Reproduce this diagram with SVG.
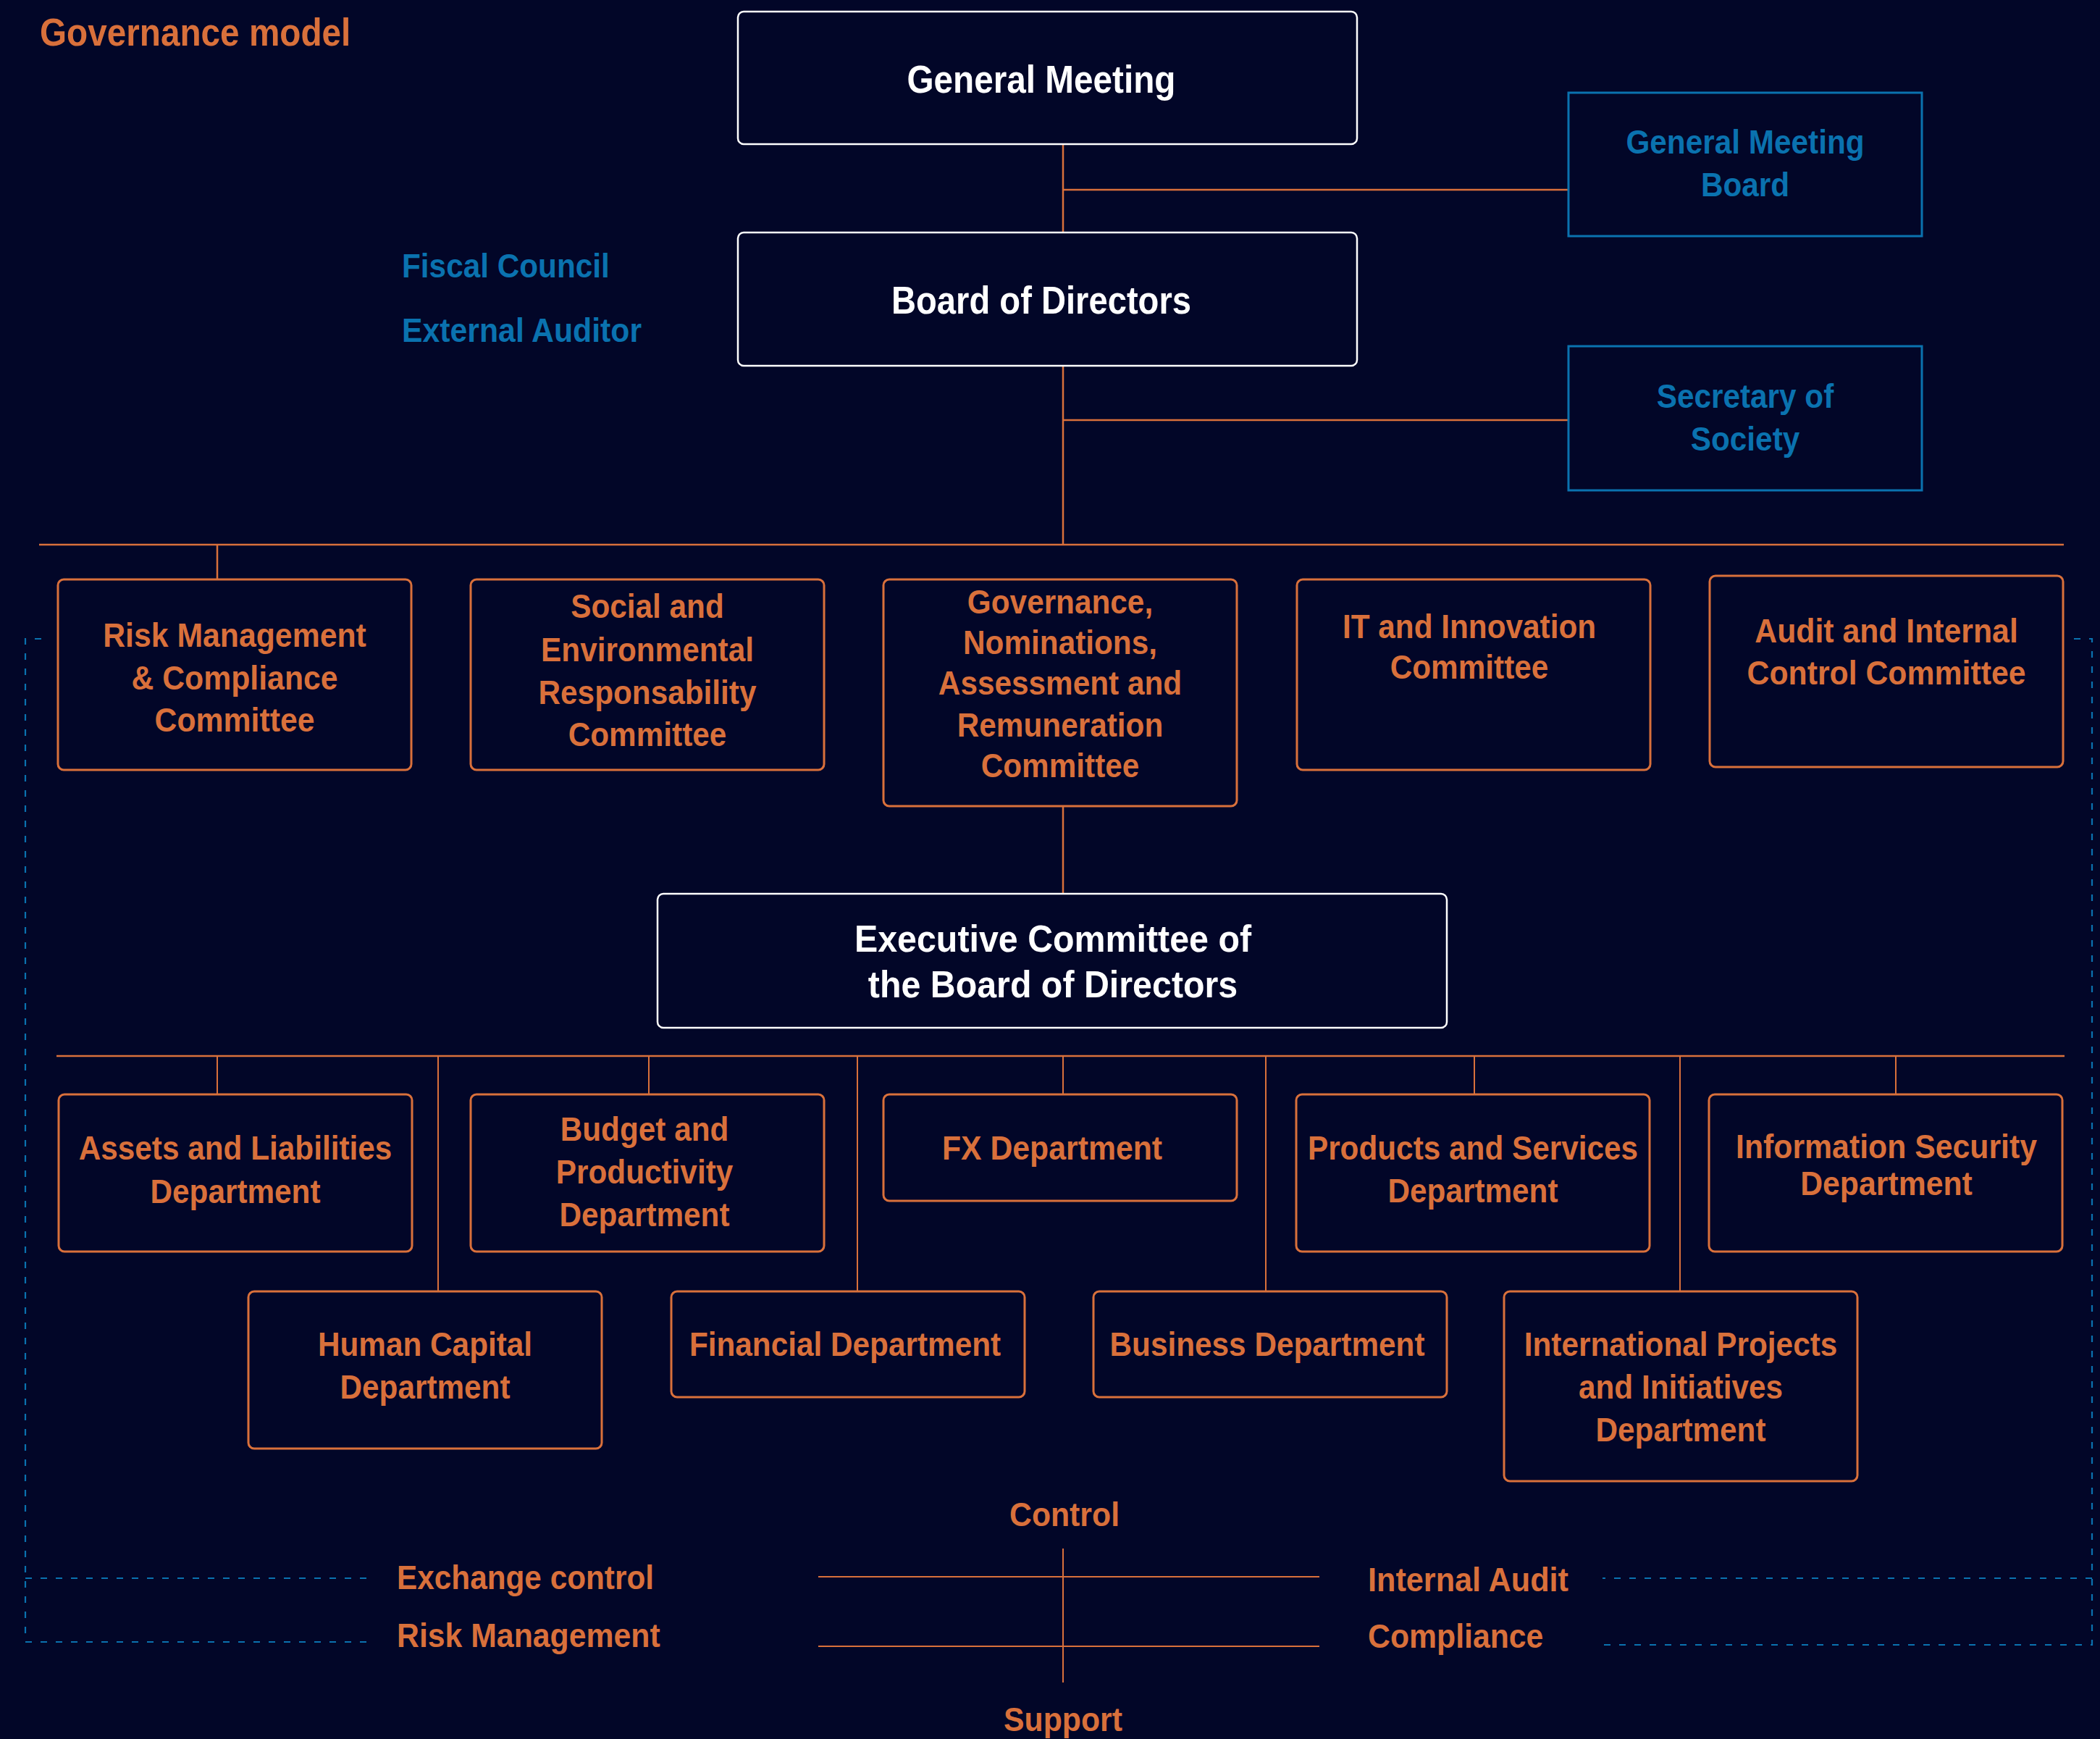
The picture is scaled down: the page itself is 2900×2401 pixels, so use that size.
<svg xmlns="http://www.w3.org/2000/svg" width="2900" height="2401" viewBox="0 0 2900 2401">
<style>
text{font-family:"Liberation Sans",Arial,sans-serif;font-weight:bold}
.w{fill:#ffffff;font-size:53px;text-anchor:middle}
.o{fill:#D9703B;font-size:46px;text-anchor:middle}
.ol{fill:#D9703B;font-size:46px}
.b{fill:#0A72AF;font-size:46px;text-anchor:middle}
.bl{fill:#0A72AF;font-size:46px}
.wb{fill:none;stroke:#ffffff;stroke-width:2.5}
.ob{fill:none;stroke:#D9703B;stroke-width:3}
.bb{fill:none;stroke:#0A72AF;stroke-width:3}
.c{fill:none;stroke:#D9703B;stroke-width:2.5}
.c2{fill:none;stroke:#D9703B;stroke-width:2}
.d{fill:none;stroke:#0A72AF;stroke-width:2.2;stroke-dasharray:9 12}
</style>
<rect width="2900" height="2401" fill="#020628"/>
<text class="ol" style="font-size:53px" transform="translate(55,63) scale(.9,1)">Governance model</text>
<text class="bl" transform="translate(555,383) scale(.92,1)">Fiscal Council</text>
<text class="bl" transform="translate(555,472) scale(.93,1)">External Auditor</text>

<g id="connectors">
<path class="c" d="M1468 199V321M1468 262H2166M1468 505V752M1468 580H2166M54 752H2850M300 752V800M1468 1113V1234"/>
<path class="c" d="M78 1458H2851"/>
<path class="c2" d="M300 1458V1511M896 1458V1511M1468 1458V1511M2036 1458V1511M2618 1458V1511M605 1458V1783M1184 1458V1783M1748 1458V1783M2320 1458V1783"/>
<path class="c2" d="M1468 2138V2323M1130 2177H1822M1130 2273H1822"/>
<path class="d" d="M57 882H35V2267H509M35 2179H509"/>
<path class="d" d="M2864 882H2889V2271H2204M2889 2179H2213"/>
</g>

<g id="general-meeting"><rect class="wb" x="1019" y="16" width="855" height="183" rx="8"/>
<text class="w" transform="translate(1438,128) scale(.9,1)">General Meeting</text></g>
<g id="board-of-directors"><rect class="wb" x="1019" y="321" width="855" height="184" rx="8"/>
<text class="w" transform="translate(1438,433) scale(.89,1)">Board of Directors</text></g>
<g id="general-meeting-board"><rect class="bb" x="2166" y="128" width="488" height="198"/>
<text class="b" transform="translate(2410,212) scale(.92,1)"><tspan x="0" y="0">General Meeting</tspan><tspan x="0" y="59">Board</tspan></text></g>
<g id="secretary"><rect class="bb" x="2166" y="478" width="488" height="199"/>
<text class="b" transform="translate(2410,563) scale(.92,1)"><tspan x="0" y="0">Secretary of</tspan><tspan x="0" y="59">Society</tspan></text></g>

<g id="risk-committee"><rect class="ob" x="80" y="800" width="488" height="263" rx="8"/>
<text class="o" transform="translate(324,893) scale(.93,1)"><tspan x="0" y="0">Risk Management</tspan><tspan x="0" y="59">&amp; Compliance</tspan><tspan x="0" y="117">Committee</tspan></text></g>
<g id="social-committee"><rect class="ob" x="650" y="800" width="488" height="263" rx="8"/>
<text class="o" transform="translate(894,853) scale(.92,1)"><tspan x="0" y="0">Social and</tspan><tspan x="0" y="60">Environmental</tspan><tspan x="0" y="119">Responsability</tspan><tspan x="0" y="177">Committee</tspan></text></g>
<g id="governance-committee"><rect class="ob" x="1220" y="800" width="488" height="313" rx="8"/>
<text class="o" transform="translate(1464,847) scale(.92,1)"><tspan x="0" y="0">Governance,</tspan><tspan x="0" y="56">Nominations,</tspan><tspan x="0" y="112">Assessment and</tspan><tspan x="0" y="170">Remuneration</tspan><tspan x="0" y="226">Committee</tspan></text></g>
<g id="it-committee"><rect class="ob" x="1791" y="800" width="488" height="263" rx="8"/>
<text class="o" transform="translate(2029,881) scale(.92,1)"><tspan x="0" y="0">IT and Innovation</tspan><tspan x="0" y="56">Committee</tspan></text></g>
<g id="audit-committee"><rect class="ob" x="2361" y="795" width="488" height="264" rx="8"/>
<text class="o" transform="translate(2605,887) scale(.93,1)"><tspan x="0" y="0">Audit and Internal</tspan><tspan x="0" y="58">Control Committee</tspan></text></g>

<g id="executive-committee"><rect class="wb" x="908" y="1234" width="1090" height="185" rx="8"/>
<text class="w" style="font-size:52px" transform="translate(1454,1314) scale(.93,1)"><tspan x="0" y="0">Executive Committee of</tspan><tspan x="0" y="63">the Board of Directors</tspan></text></g>

<g id="assets-dept"><rect class="ob" x="81" y="1511" width="488" height="217" rx="8"/>
<text class="o" transform="translate(325,1601) scale(.92,1)"><tspan x="0" y="0">Assets and Liabilities</tspan><tspan x="0" y="60">Department</tspan></text></g>
<g id="budget-dept"><rect class="ob" x="650" y="1511" width="488" height="217" rx="8"/>
<text class="o" transform="translate(890,1575) scale(.92,1)"><tspan x="0" y="0">Budget and</tspan><tspan x="0" y="59">Productivity</tspan><tspan x="0" y="118">Department</tspan></text></g>
<g id="fx-dept"><rect class="ob" x="1220" y="1511" width="488" height="147" rx="8"/>
<text class="o" transform="translate(1453,1601) scale(.93,1)">FX Department</text></g>
<g id="products-dept"><rect class="ob" x="1790" y="1511" width="488" height="217" rx="8"/>
<text class="o" transform="translate(2034,1601) scale(.92,1)"><tspan x="0" y="0">Products and Services</tspan><tspan x="0" y="59">Department</tspan></text></g>
<g id="infosec-dept"><rect class="ob" x="2360" y="1511" width="488" height="217" rx="8"/>
<text class="o" transform="translate(2605,1599) scale(.93,1)"><tspan x="0" y="0">Information Security</tspan><tspan x="0" y="51">Department</tspan></text></g>
<g id="human-capital-dept"><rect class="ob" x="343" y="1783" width="488" height="217" rx="8"/>
<text class="o" transform="translate(587,1872) scale(.92,1)"><tspan x="0" y="0">Human Capital</tspan><tspan x="0" y="59">Department</tspan></text></g>
<g id="financial-dept"><rect class="ob" x="927" y="1783" width="488" height="146" rx="8"/>
<text class="o" transform="translate(1167,1872) scale(.92,1)">Financial Department</text></g>
<g id="business-dept"><rect class="ob" x="1510" y="1783" width="488" height="146" rx="8"/>
<text class="o" transform="translate(1750,1872) scale(.92,1)">Business Department</text></g>
<g id="international-dept"><rect class="ob" x="2077" y="1783" width="488" height="262" rx="8"/>
<text class="o" transform="translate(2321,1872) scale(.92,1)"><tspan x="0" y="0">International Projects</tspan><tspan x="0" y="59">and Initiatives</tspan><tspan x="0" y="118">Department</tspan></text></g>

<g id="control-matrix">
<text class="o" transform="translate(1470,2107) scale(.93,1)">Control</text>
<text class="o" transform="translate(1468,2390) scale(.93,1)">Support</text>
<text class="ol" transform="translate(548,2194) scale(.92,1)">Exchange control</text>
<text class="ol" transform="translate(548,2274) scale(.93,1)">Risk Management</text>
<text class="ol" transform="translate(1889,2197) scale(.94,1)">Internal Audit</text>
<text class="ol" transform="translate(1889,2275) scale(.93,1)">Compliance</text>
</g>
</svg>
